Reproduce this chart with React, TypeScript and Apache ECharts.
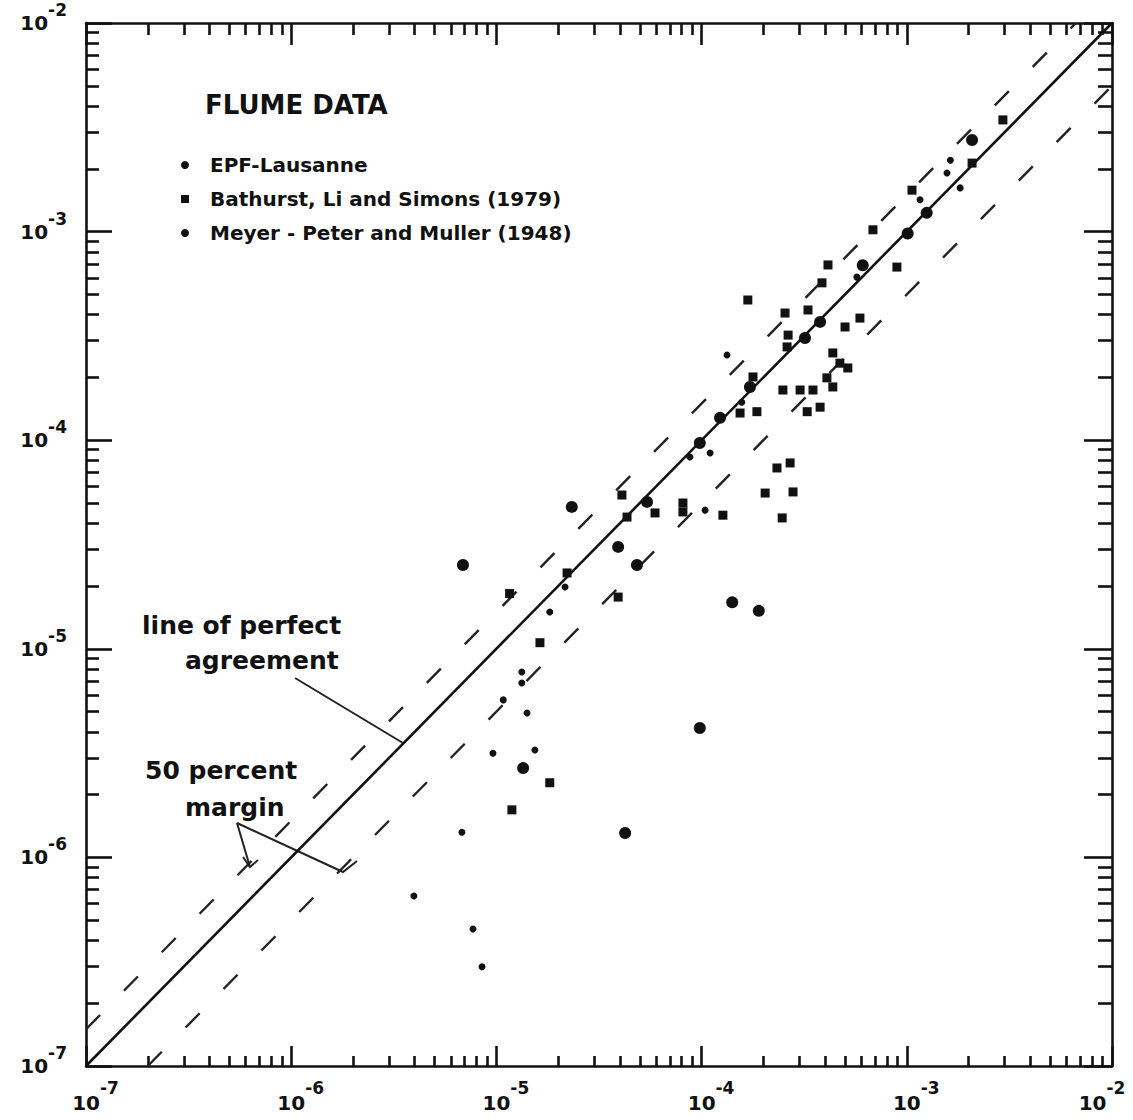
import React, { useEffect, useRef } from 'react';
import * as echarts from 'echarts';

// Axis ticks and labels
const decadeTicks = [1e-7, 1e-6, 1e-5, 1e-4, 1e-3, 1e-2];
const exponentLabels = ['-7', '-6', '-5', '-4', '-3', '-2'];
const minorMantissas = [2, 3, 4, 5, 6, 7, 8, 9];
const minorTicks = decadeTicks
  .slice(0, -1)
  .flatMap((d) => minorMantissas.map((m) => +(m * d).toPrecision(3)));

// EPF-Lausanne (computed x, measured y)
const epfX = [2.08e-3, 1.01e-3, 6.1e-4, 3.19e-4, 1.72e-4, 1.23e-4, 5.42e-5, 1.41e-4, 9.8e-5, 1.35e-5, 4.24e-5, 1.9e-4, 6.87e-6, 2.33e-5, 3.92e-5, 4.84e-5, 1.25e-3, 3.78e-4, 9.8e-5];
const epfY = [2.75e-3, 9.8e-4, 6.9e-4, 3.09e-4, 1.8e-4, 1.28e-4, 5.06e-5, 1.67e-5, 4.17e-6, 2.68e-6, 1.31e-6, 1.52e-5, 2.52e-5, 4.79e-5, 3.08e-5, 2.52e-5, 1.23e-3, 3.69e-4, 9.7e-5];

// Bathurst, Li and Simons (1979)
const bathX = [2.94e-3, 2.08e-3, 6.84e-4, 8.95e-4, 4.13e-4, 3.86e-4, 1.68e-4, 2.55e-4, 3.3e-4, 5.91e-4, 5.0e-4, 2.64e-4, 2.61e-4, 4.36e-4, 4.72e-4, 5.16e-4, 1.78e-4, 2.49e-4, 3.02e-4, 3.49e-4, 4.08e-4, 4.36e-4, 1.54e-4, 1.86e-4, 3.27e-4, 3.78e-4, 2.33e-4, 2.7e-4, 2.04e-4, 2.79e-4, 2.47e-4, 5.93e-5, 4.09e-5, 4.33e-5, 8.11e-5, 8.11e-5, 1.27e-4, 3.92e-5, 2.21e-5, 1.16e-5, 1.63e-5, 1.82e-5, 1.19e-5, 1.06e-3];
const bathY = [3.43e-3, 2.13e-3, 1.02e-3, 6.76e-4, 6.92e-4, 5.68e-4, 4.7e-4, 4.07e-4, 4.21e-4, 3.85e-4, 3.49e-4, 3.19e-4, 2.8e-4, 2.62e-4, 2.34e-4, 2.22e-4, 2.01e-4, 1.74e-4, 1.74e-4, 1.74e-4, 1.99e-4, 1.8e-4, 1.35e-4, 1.37e-4, 1.37e-4, 1.44e-4, 7.36e-5, 7.78e-5, 5.58e-5, 5.65e-5, 4.24e-5, 4.48e-5, 5.46e-5, 4.28e-5, 5.0e-5, 4.53e-5, 4.37e-5, 1.77e-5, 2.31e-5, 1.84e-5, 1.07e-5, 2.28e-6, 1.69e-6, 1.58e-3];

// Meyer - Peter and Muller (1948)
const mpmX = [1.63e-3, 1.57e-3, 1.82e-3, 1.16e-3, 5.71e-4, 1.33e-4, 1.57e-4, 1.1e-4, 8.77e-5, 1.04e-4, 2.16e-5, 1.82e-5, 1.33e-5, 1.33e-5, 1.08e-5, 1.41e-5, 9.62e-6, 1.54e-5, 6.79e-6, 3.96e-6, 7.69e-6, 8.51e-6];
const mpmY = [2.2e-3, 1.91e-3, 1.62e-3, 1.42e-3, 6.05e-4, 2.56e-4, 1.52e-4, 8.69e-5, 8.3e-5, 4.62e-5, 1.98e-5, 1.5e-5, 7.74e-6, 6.86e-6, 5.69e-6, 4.92e-6, 3.16e-6, 3.27e-6, 1.32e-6, 6.53e-7, 4.54e-7, 2.99e-7];

// Reference lines: perfect agreement and 50 percent margins
const perfectX = [1e-7, 1e-2];
const perfectY = [1e-7, 1e-2];
const upperX = [1e-7, 6.667e-3];
const upperY = [1.5e-7, 1e-2];
const lowerX = [2e-7, 1e-2];
const lowerY = [1e-7, 5e-3];

const seriesNames = ['EPF-Lausanne', 'Bathurst, Li and Simons (1979)', 'Meyer - Peter and Muller (1948)'];

const zip = (xs: number[], ys: number[]) => xs.map((x, i) => [x, ys[i]]);

const INK = '#111';
const FONT = 'DejaVu Sans';

function decadeIndex(v: number) {
  return decadeTicks.findIndex((d) => Math.abs(Math.log10(d) - Math.log10(v)) < 1e-6);
}
function xLabelFormatter(v: number) {
  const i = decadeIndex(v);
  if (i === decadeTicks.length - 1) return `{bl|10}{sl|${exponentLabels[i]}}`;
  return `{b|10}{s|${exponentLabels[i] ?? ''}}`;
}
function yLabelFormatter(v: number) {
  const i = decadeIndex(v);
  return `{b|10}{s|${exponentLabels[i] ?? ''}}`;
}

function makeAxis(position: string, ticks: number[], len: number, showLine: boolean, label: any) {
  return {
    type: 'log',
    logBase: 10,
    min: 1e-7,
    max: 1e-2,
    position,
    gridIndex: 0,
    axisLine: { show: showLine, onZero: false, lineStyle: { color: INK, width: 2.6 } },
    axisTick: { show: true, inside: true, length: len, customValues: ticks, lineStyle: { color: INK, width: 2.6 } },
    axisLabel: label,
    splitLine: { show: false },
    minorTick: { show: false },
    minorSplitLine: { show: false },
  };
}

const baseFont = { fontSize: 20, fontWeight: 'bold', fontFamily: FONT, color: INK };
const supFont = { fontSize: 17, fontWeight: 'bold', fontFamily: FONT, color: INK };

const xLabel = {
  show: true,
  customValues: decadeTicks,
  margin: 13,
  formatter: xLabelFormatter,
  rich: {
    b: { ...baseFont, padding: [0, 0, 0, 19] },
    s: { ...supFont, padding: [0, 0, 30, 0] },
    bl: { ...baseFont },
    sl: { ...supFont, padding: [0, 20, 30, 0] },
  },
};
const yLabel = {
  show: true,
  customValues: decadeTicks,
  margin: 19,
  formatter: yLabelFormatter,
  rich: {
    b: { ...baseFont },
    s: { ...supFont, padding: [0, 0, 26, 0] },
  },
};
const noLabel = { show: false };

const textStyle = (text: string, size: number) => ({
  text,
  fontSize: size,
  fontWeight: 'bold',
  fontFamily: FONT,
  fill: INK,
  verticalAlign: 'middle',
  align: 'left',
});

const leader = (points: number[][]) => ({
  type: 'polyline',
  shape: { points },
  style: { stroke: '#222', lineWidth: 2, fill: null },
  silent: true,
});

const option: any = {
  animation: false,
  backgroundColor: '#fff',
  textStyle: { fontFamily: FONT },
  grid: { left: 86, top: 23, width: 1026, height: 1043, outerBoundsMode: 'none' },
  xAxis: [
    makeAxis('bottom', decadeTicks, 20, true, xLabel),
    makeAxis('bottom', minorTicks, 10, false, noLabel),
    makeAxis('top', decadeTicks, 22, true, noLabel),
    makeAxis('top', minorTicks, 12, false, noLabel),
  ],
  yAxis: [
    makeAxis('left', decadeTicks, 26, true, yLabel),
    makeAxis('left', minorTicks, 13, false, noLabel),
    makeAxis('right', decadeTicks, 28, true, noLabel),
    makeAxis('right', minorTicks, 14, false, noLabel),
  ],
  legend: {
    left: 176,
    top: 150,
    orient: 'vertical',
    itemWidth: 40,
    itemHeight: 8,
    itemGap: 14,
    symbolKeepAspect: true,
    selectedMode: false,
    textStyle: { fontSize: 20, fontWeight: 'bold', fontFamily: FONT, color: INK },
    data: [
      { name: seriesNames[0], icon: 'circle' },
      { name: seriesNames[1], icon: 'path://M0 0H10V10H0Z' },
      { name: seriesNames[2], icon: 'circle' },
    ],
  },
  graphic: [
    { type: 'text', x: 205, y: 105, style: textStyle('FLUME DATA', 26), silent: true },
    { type: 'text', x: 142, y: 625, style: textStyle('line of perfect', 25), silent: true },
    { type: 'text', x: 185, y: 660, style: textStyle('agreement', 25), silent: true },
    { type: 'text', x: 145, y: 770, style: textStyle('50 percent', 25), silent: true },
    { type: 'text', x: 185, y: 807, style: textStyle('margin', 25), silent: true },
    leader([[295, 678], [403, 743]]),
    leader([[237, 823], [343, 872], [357, 861]]),
    leader([[237, 823], [250, 867]]),
    leader([[243, 857], [250, 867], [258, 860]]),
  ],
  series: [
    {
      type: 'line',
      name: 'perfect agreement',
      data: zip(perfectX, perfectY),
      showSymbol: false,
      symbol: 'none',
      silent: true,
      lineStyle: { color: INK, width: 2.6 },
      z: 1,
    },
    {
      type: 'line',
      name: 'upper margin',
      data: zip(upperX, upperY),
      showSymbol: false,
      symbol: 'none',
      silent: true,
      lineStyle: { color: '#222', width: 2.4, type: [20, 34] },
      z: 1,
    },
    {
      type: 'line',
      name: 'lower margin',
      data: zip(lowerX, lowerY),
      showSymbol: false,
      symbol: 'none',
      silent: true,
      lineStyle: { color: '#222', width: 2.4, type: [20, 34] },
      z: 1,
    },
    {
      type: 'scatter',
      name: seriesNames[0],
      data: zip(epfX, epfY),
      symbol: 'circle',
      symbolSize: 12,
      itemStyle: { color: INK, opacity: 1 },
      z: 3,
    },
    {
      type: 'scatter',
      name: seriesNames[1],
      data: zip(bathX, bathY),
      symbol: 'rect',
      symbolSize: 9,
      itemStyle: { color: INK, opacity: 1 },
      z: 3,
    },
    {
      type: 'scatter',
      name: seriesNames[2],
      data: zip(mpmX, mpmY),
      symbol: 'circle',
      symbolSize: 7,
      itemStyle: { color: INK, opacity: 1 },
      z: 3,
    },
  ],
};

export default function App() {
  const ref = useRef<HTMLDivElement>(null);
  useEffect(() => {
    const chart = echarts.init(ref.current!, null, { renderer: 'svg' });
    chart.setOption(option);
    return () => chart.dispose();
  }, []);
  return (
    <div
      ref={ref}
      style={{ position: 'absolute', left: 0, top: 0, width: 1133, height: 1120, background: '#fff' }}
    />
  );
}
